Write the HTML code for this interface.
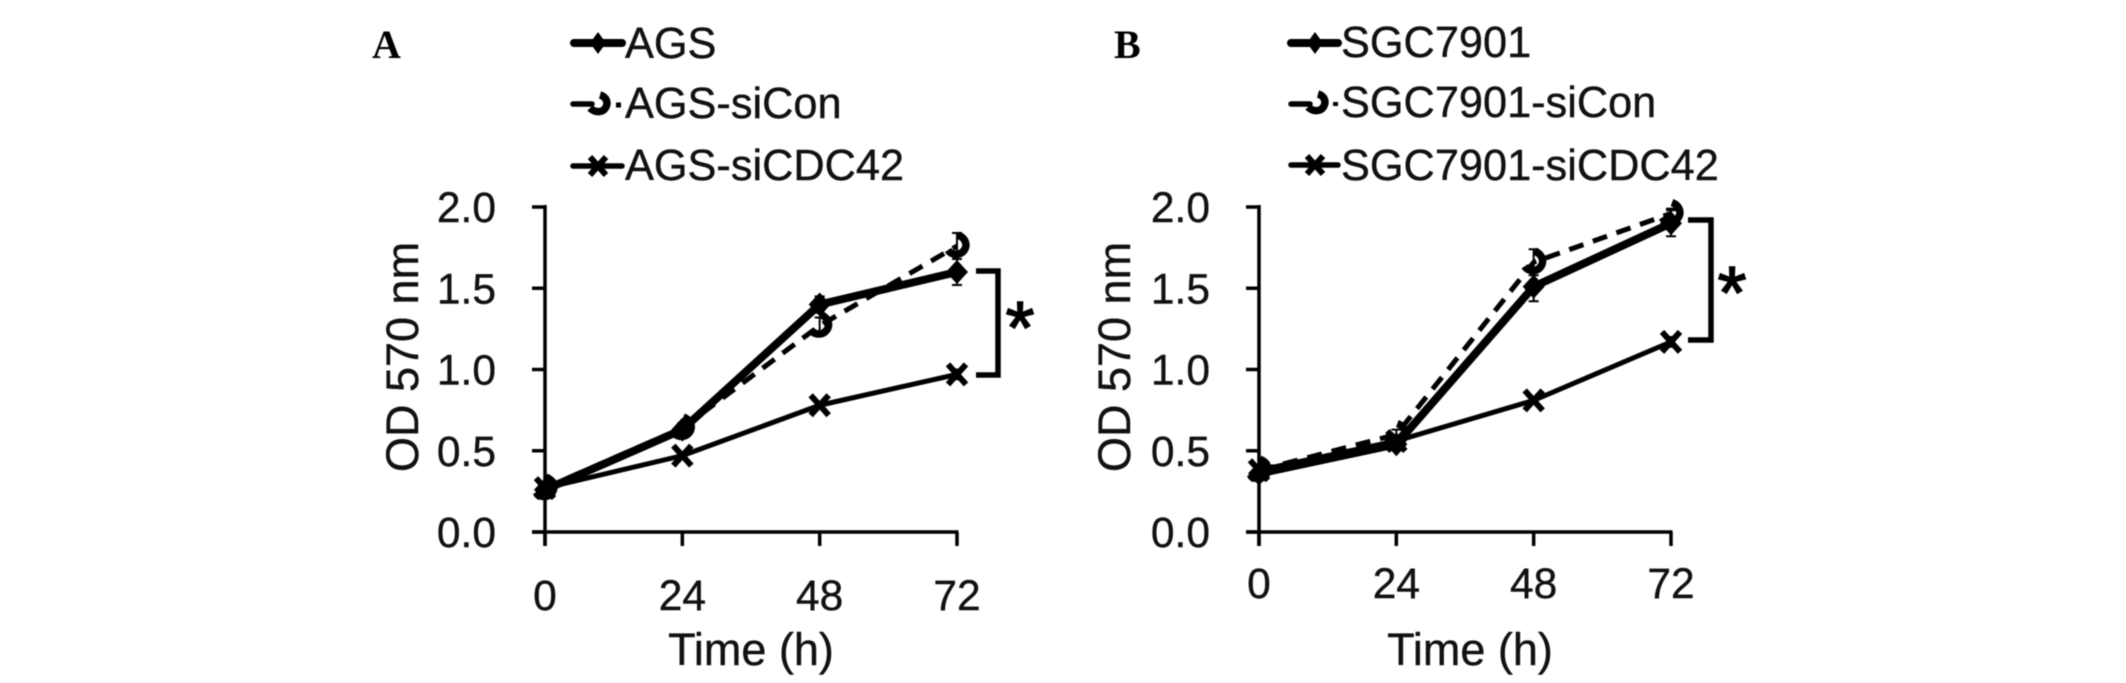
<!DOCTYPE html>
<html lang="en">
<head>
<meta charset="utf-8">
<title>Cell growth curves</title>
<style>
html,body{margin:0;padding:0;background:#fff;width:2126px;height:683px;overflow:hidden}
svg{display:block;filter:blur(.5px)}
text{font-family:"Liberation Sans",sans-serif;fill:#111;stroke:#111;stroke-width:.4px}
.panel-letter{font-family:"Liberation Serif",serif;font-weight:bold;font-size:40px;fill:#000;stroke:none}
.legend-text{font-size:43.3px}
.axis-title{font-size:45px}
.star{font-size:74px;text-anchor:middle;stroke:#000;stroke-width:1.6px;fill:#000}
</style>
</head>
<body>
<svg id="fig" width="2126" height="683" viewBox="0 0 2126 683" xmlns="http://www.w3.org/2000/svg">
  <text class="panel-letter" x="372" y="58">A</text>
  <text class="panel-letter" x="1114" y="58">B</text>

  <g>
    <g>
      <line x1="574" y1="43" x2="622" y2="43" stroke="#000" stroke-width="8" stroke-linecap="round"/>
      <path d="M590 43L598 32L606 43L598 54Z" fill="#000"/>
      <text class="legend-text" x="625" y="58">AGS</text>
    </g>
    <g>
      <line x1="573" y1="104" x2="592" y2="104" stroke="#000" stroke-width="5.5" stroke-linecap="round"/>
      <path d="M600 95C607 97 608 103 606 107C603 113 595 113 590 108" fill="none" stroke="#000" stroke-width="7.5"/>
      <line x1="616" y1="105" x2="621" y2="105" stroke="#000" stroke-width="5"/>
      <text class="legend-text" x="625" y="118">AGS-siCon</text>
    </g>
    <g>
      <line x1="573" y1="166" x2="622" y2="166" stroke="#000" stroke-width="5.5" stroke-linecap="round"/>
      <path d="M590 157L606 175M606 157L590 175" stroke="#000" stroke-width="6"/>
      <text class="legend-text" x="625" y="180">AGS-siCDC42</text>
    </g>
  </g>

  <g>
    <g>
      <line x1="1291" y1="43" x2="1338" y2="43" stroke="#000" stroke-width="8" stroke-linecap="round"/>
      <path d="M1307 43L1315 32L1323 43L1315 54Z" fill="#000"/>
      <text class="legend-text" x="1341" y="57">SGC7901</text>
    </g>
    <g>
      <line x1="1291" y1="104" x2="1310" y2="104" stroke="#000" stroke-width="5.5" stroke-linecap="round"/>
      <path d="M1318 94C1325 96 1326 102 1324 106C1321 112 1313 112 1308 107" fill="none" stroke="#000" stroke-width="7.5"/>
      <line x1="1333" y1="104" x2="1338" y2="104" stroke="#000" stroke-width="4"/>
      <text class="legend-text" x="1341" y="117">SGC7901-siCon</text>
    </g>
    <g>
      <line x1="1291" y1="165" x2="1338" y2="165" stroke="#000" stroke-width="5.5" stroke-linecap="round"/>
      <path d="M1307 156L1323 174M1323 156L1307 174" stroke="#000" stroke-width="6"/>
      <text class="legend-text" x="1341" y="180">SGC7901-siCDC42</text>
    </g>
  </g>

  <text class="axis-title" transform="translate(418,357) rotate(-90)" text-anchor="middle">OD 570 nm</text>
  <text class="axis-title" transform="translate(1130,357) rotate(-90)" text-anchor="middle">OD 570 nm</text>
  <text class="axis-title" x="751" y="665" text-anchor="middle">Time (h)</text>
  <text class="axis-title" x="1470" y="665" text-anchor="middle">Time (h)</text>

  <path d="M976 271H998V375H976" fill="none" stroke="#000" stroke-width="5.5"/>
  <path d="M1688 220H1711V340H1688" fill="none" stroke="#000" stroke-width="5.5"/>
  <text class="star" x="1020" y="353">*</text>
  <text class="star" x="1732" y="318">*</text>
</svg>
<script>
const hours = [0, 24, 48, 72];
const yTickValues = [0, 0.5, 1, 1.5, 2];
const yTickLabels = ["0.0", "0.5", "1.0", "1.5", "2.0"];
const xTickLabels = ["0", "24", "48", "72"];

const agsValues = [0.26, 0.63, 1.40, 1.60];
const agsErrors = [0.02, 0.03, 0.05, 0.08];
const agsSiConValues = [0.27, 0.64, 1.27, 1.76];
const agsSiConErrors = [0.02, 0.03, 0.05, 0.08];
const agsSiCdc42Values = [0.27, 0.47, 0.78, 0.97];
const agsSiCdc42Errors = [0.01, 0.02, 0.02, 0.03];

const sgcValues = [0.36, 0.54, 1.51, 1.90];
const sgcErrors = [0.02, 0.02, 0.09, 0.08];
const sgcSiConValues = [0.38, 0.60, 1.66, 1.96];
const sgcSiConErrors = [0.02, 0.03, 0.08, 0.03];
const sgcSiCdc42Values = [0.38, 0.56, 0.81, 1.17];
const sgcSiCdc42Errors = [0.01, 0.02, 0.02, 0.03];

const NS = 'http://www.w3.org/2000/svg';
const fig = document.getElementById('fig');

function svgEl(tag, attrs, parent) {
  const el = document.createElementNS(NS, tag);
  for (const k in attrs) el.setAttribute(k, attrs[k]);
  parent.appendChild(el);
  return el;
}

function drawAxes(g, xScale, yScale, xLabelBase, yLabelEnd) {
  const x0 = xScale(0), x1 = xScale(72), y0 = yScale(0), y1 = yScale(2);
  const yLine = svgEl('line', {x1: x0, y1: y1 - 2, x2: x0, y2: y0 + 14, stroke: '#000', 'stroke-width': 3.5}, g);
  
  
  const xLine = svgEl('line', {x1: x0 - 13, y1: y0, x2: x1 + 1.5, y2: y0, stroke: '#000', 'stroke-width': 3.5}, g);
  
  
  yTickValues.forEach((v, i) => {
    const t = svgEl('line', {x1: x0 - 13, y1: yScale(v), x2: x0, y2: yScale(v), stroke: '#000', 'stroke-width': 3.5}, g);
    
    
    const l = svgEl('text', {x: yLabelEnd, y: yScale(v) + 15, 'text-anchor': 'end', style: 'font-size:42.5px'}, g);
    l.textContent = yTickLabels[i];
    
    
  });
  hours.forEach((h, i) => {
    const t = svgEl('line', {x1: xScale(h), y1: y0, x2: xScale(h), y2: y0 + 14, stroke: '#000', 'stroke-width': 3.5}, g);
    
    
    const l = svgEl('text', {x: xScale(h), y: xLabelBase, 'text-anchor': 'middle', style: 'font-size:42.5px'}, g);
    l.textContent = xTickLabels[i];
    
    
  });
}

function drawMarker(g, kind, cx, cy) {
  let m;
  if (kind === 'diamond') {
    m = svgEl('path', {d: `M${cx - 11} ${cy}L${cx} ${cy - 12}L${cx + 11} ${cy}L${cx} ${cy + 12}Z`, fill: '#000'}, g);
  } else if (kind === 'hook') {
    m = svgEl('path', {d: `M${cx + 1} ${cy - 11}C${cx + 9} ${cy - 8} ${cx + 10} ${cy - 1} ${cx + 8} ${cy + 3}C${cx + 4} ${cy + 10} ${cx - 5} ${cy + 10} ${cx - 9} ${cy + 4}`, fill: 'none', stroke: '#000', 'stroke-width': 7.5}, g);
  } else {
    m = svgEl('path', {d: `M${cx - 9} ${cy - 10}L${cx + 9} ${cy + 10}M${cx + 9} ${cy - 10}L${cx - 9} ${cy + 10}`, fill: 'none', stroke: '#000', 'stroke-width': 6}, g);
  }
  
  
}

function drawSeries(g, values, errors, kind, width, dash, xScale, yScale) {
  const pts = hours.map((h, i) => xScale(h) + ',' + yScale(values[i])).join(' ');
  const attrs = {points: pts, fill: 'none', stroke: '#000', 'stroke-width': width, 'stroke-linejoin': 'round'};
  if (dash) attrs['stroke-dasharray'] = dash;
  const line = svgEl('polyline', attrs, g);
  
  
  hours.forEach((h, i) => {
    const cx = xScale(h);
    const top = yScale(values[i] + errors[i]);
    const bot = yScale(values[i] - errors[i]);
    const e = svgEl('path', {d: `M${cx} ${top}V${bot}M${cx - 5} ${top}H${cx + 5}M${cx - 5} ${bot}H${cx + 5}`, fill: 'none', stroke: '#000', 'stroke-width': 2}, g);
    
    
    drawMarker(g, kind, cx, yScale(values[i]));
  });
}

function drawPanel(name, x0, xLabelBase, yLabelEnd, solid, solidErr, dashed, dashedErr, cross, crossErr) {
  const xScale = h => x0 + h * (412 / 72);
  const yScale = v => 532 - v * 162.5;
  const g = svgEl('g', {}, fig);
  
  
  drawAxes(g, xScale, yScale, xLabelBase, yLabelEnd);
  drawSeries(g, cross, crossErr, 'cross', 5, null, xScale, yScale);
  drawSeries(g, dashed, dashedErr, 'hook', 5, '15 10', xScale, yScale);
  drawSeries(g, solid, solidErr, 'diamond', 8, null, xScale, yScale);
}

drawPanel('panel-a', 545, 610, 496, agsValues, agsErrors, agsSiConValues, agsSiConErrors, agsSiCdc42Values, agsSiCdc42Errors);
drawPanel('panel-b', 1259, 598, 1210, sgcValues, sgcErrors, sgcSiConValues, sgcSiConErrors, sgcSiCdc42Values, sgcSiCdc42Errors);
</script>
</body>
</html>
